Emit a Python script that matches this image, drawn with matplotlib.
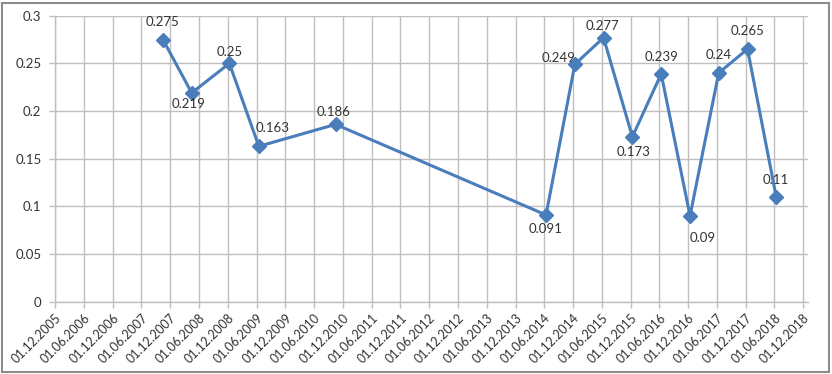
import matplotlib
matplotlib.use("Agg")
import matplotlib.pyplot as plt
import matplotlib.dates as mdates
from matplotlib.patches import Rectangle
import pandas as pd

# ---- data ----
dates = ['2007-10-15', '2008-04-15', '2008-12-10', '2009-06-15', '2010-10-15',
         '2014-06-12', '2014-12-12', '2015-06-12', '2015-12-12', '2016-06-12',
         '2016-12-12', '2017-06-12', '2017-12-12', '2018-06-12']
values = [0.275, 0.219, 0.25, 0.163, 0.186, 0.091, 0.249, 0.277, 0.173, 0.239,
          0.09, 0.24, 0.265, 0.11]
labels = ['0.275', '0.219', '0.25', '0.163', '0.186', '0.091', '0.249', '0.277',
          '0.173', '0.239', '0.09', '0.24', '0.265', '0.11']
tick_dates = pd.date_range('2005-12-01', '2018-12-01', freq='6MS')
y_ticks = [0, 0.05, 0.1, 0.15, 0.2, 0.25, 0.3]
y_tick_labels = ['0', '0.05', '0.1', '0.15', '0.2', '0.25', '0.3']

# label offsets in pixels (dx, dy up)
label_offsets = [(0, 18), (-3, -11), (0, 11), (14, 18), (-2, 12), (0, -14.5),
                 (-16, 6), (-1, 12), (1, -15), (0, 17), (13, -22), (0, 17.5),
                 (0, 18), (0, 17)]

plt.rcParams['font.family'] = ['Lato', 'DejaVu Sans']

W, H = 832, 374
fig = plt.figure(figsize=(W / 100, H / 100), dpi=100)
ax = fig.add_axes([55.3 / W, 1 - 301.7 / H, (808.3 - 55.3) / W, (301.7 - 15.7) / H])

x = pd.to_datetime(dates)
line_color = '#4A7EBB'
grid_color = '#BFBFBF'
text_color = '#333333'

ax.plot(x, values, color=line_color, lw=2.2, marker='D', markersize=7,
        markerfacecolor=line_color, markeredgecolor=line_color, zorder=3)

for xi, yi, lab, (dx, dy) in zip(x, values, labels, label_offsets):
    ax.annotate(lab, (xi, yi), xytext=(dx, dy), textcoords='offset pixels',
                ha='center', va='center', fontsize=9.5, color=text_color, zorder=4)

ax.set_ylim(0, 0.3)
ax.set_yticks(y_ticks)
ax.set_yticklabels(y_tick_labels)

# x-axis: date axis with 6-month ticks
x0 = pd.Timestamp('2005-12-01')
x1 = pd.Timestamp('2018-12-01')
span_px = 803.3 - 55.3
days = (x1 - x0).days
extra = days * (808.3 - 803.3) / span_px
ax.set_xlim(mdates.date2num(x0), mdates.date2num(x1) + extra)
ax.set_xticks(tick_dates)
ax.set_xticklabels([d.strftime('%d.%m.%Y') for d in tick_dates], rotation=45,
                   ha='right', va='top', rotation_mode='anchor')

ax.grid(True, color=grid_color, lw=1.0)
ax.set_axisbelow(True)
for s in ['top', 'right']:
    ax.spines[s].set_visible(False)
for s in ['left', 'bottom']:
    ax.spines[s].set_color(grid_color)
    ax.spines[s].set_linewidth(1.0)

ax.tick_params(axis='y', length=4, width=1.0, color=grid_color, pad=6,
               labelsize=9.5, labelcolor=text_color)
ax.tick_params(axis='x', length=4, width=1.0, color=grid_color, pad=3,
               labelsize=9, labelcolor=text_color)

# outer chart border
fig.patches.append(Rectangle((1.5 / W, 2.5 / H), (829 - 1.5) / W, (371 - 2.5) / H,
                             transform=fig.transFigure, fill=False,
                             edgecolor='#8C8C8C', lw=1.5))

fig.savefig('out.png', dpi=100)
